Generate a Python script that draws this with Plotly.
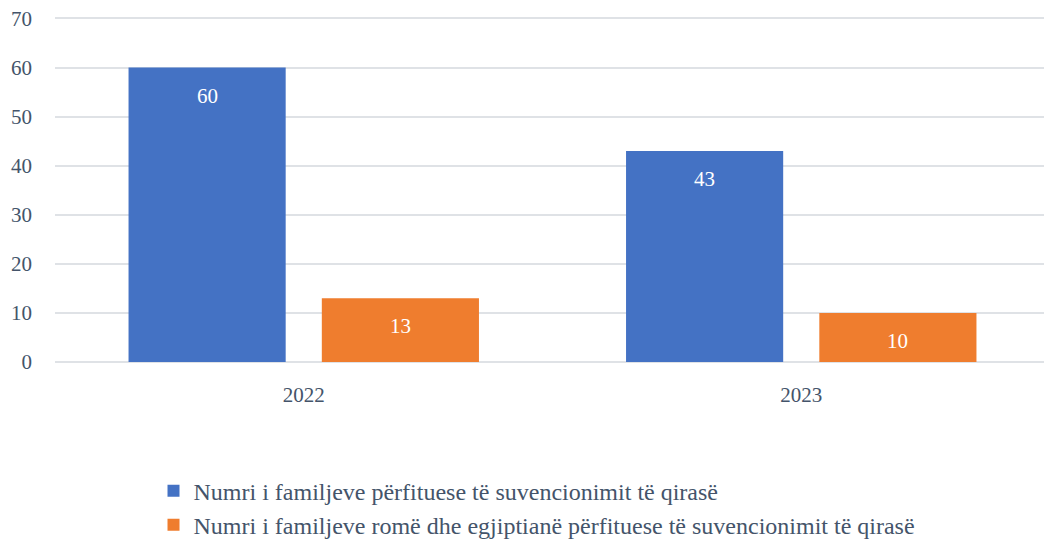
import plotly.graph_objects as go

years = ["2022", "2023"]
familjet = [60, 43]
familjet_rome = [13, 10]
series_names = [
    "Numri i familjeve përfituese të suvencionimit të qirasë",
    "Numri i familjeve romë dhe egjiptianë përfituese të suvencionimit të qirasë",
]
y_ticks = [0, 10, 20, 30, 40, 50, 60, 70]

font_name = "Liberation Serif, Times New Roman, serif"
text_color = "#44546A"

fig = go.Figure()
series = [
    (series_names[0], familjet, "#4472C4", -96.5),
    (series_names[1], familjet_rome, "#EF7D2E", 96.5),
]
for name, values, color, shift in series:
    fig.add_trace(go.Bar(
        x=years,
        y=values,
        name=name,
        marker=dict(color=color, line=dict(width=0)),
        textposition="none",
    ))
    # value labels inside the bar, a little below its top
    for i, v in enumerate(values):
        fig.add_annotation(
            x=i, y=v, xref="x", yref="y",
            text=str(v), showarrow=False,
            xshift=shift, yshift=-28, yanchor="middle",
            font=dict(family=font_name, size=21, color="white"),
        )

# the page body adds 8px around the figure, so the figure is a bit smaller
fig.update_layout(
    width=1044,
    height=540,
    margin=dict(l=47, r=2, t=9, b=185),
    paper_bgcolor="white",
    plot_bgcolor="white",
    barmode="group",
    bargap=0.223,
    bargroupgap=0.187,
    font=dict(family=font_name, size=21, color=text_color),
    showlegend=True,
    legend=dict(
        orientation="v",
        x=0.099,
        xanchor="left",
        y=-0.305,
        yanchor="top",
        font=dict(family=font_name, size=24, color=text_color),
        itemwidth=30,
        tracegroupgap=37,
    ),
)
fig.update_xaxes(
    type="category",
    range=[-0.5, len(years) - 0.5],
    automargin=False,
    showgrid=False,
    showline=False,
    ticks="",
    tickfont=dict(family=font_name, size=21, color=text_color),
    ticklabelstandoff=18,
)
fig.update_yaxes(
    range=[0, 70.3],
    automargin=False,
    tickvals=y_ticks,
    ticklabeloverflow="allow",
    showgrid=True,
    gridcolor="#DFE2E6",
    gridwidth=1.5,
    zeroline=True,
    zerolinecolor="#DFE2E6",
    zerolinewidth=1.5,
    showline=False,
    ticks="",
    tickfont=dict(family=font_name, size=21, color=text_color),
    ticklabelstandoff=22,
)

fig.write_html("out.html")
